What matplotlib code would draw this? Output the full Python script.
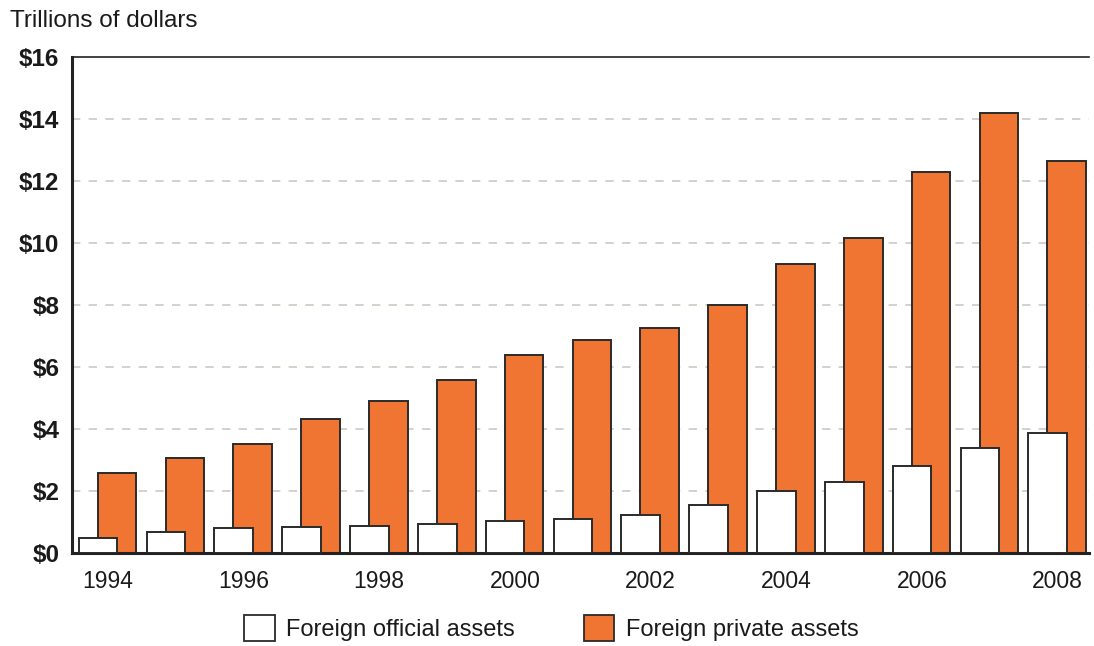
import matplotlib.pyplot as plt
import numpy as np
from matplotlib.patches import Patch

plt.rcParams['font.family'] = ['Liberation Sans', 'DejaVu Sans']

# data (trillions of dollars)
years = list(range(1994, 2009))
official = [0.48, 0.68, 0.81, 0.84, 0.87, 0.94, 1.03, 1.10, 1.23, 1.55, 2.00, 2.29, 2.81, 3.39, 3.87]
private = [2.58, 3.06, 3.50, 4.32, 4.90, 5.58, 6.39, 6.87, 7.26, 8.00, 9.32, 10.16, 12.29, 14.19, 12.65]
y_ticks = [0, 2, 4, 6, 8, 10, 12, 14, 16]

ORANGE = '#f07533'
EDGE = '#2a2a2a'
TEXT = '#1a1a1a'

fig = plt.figure(figsize=(10.94, 6.46), dpi=100)
ax = fig.add_axes([0.0658, 0.144, 0.930, 0.768])

x = np.arange(len(years))
w = 0.57
ax.bar(x - 0.12, private, width=w, align='edge', color=ORANGE,
       edgecolor=EDGE, linewidth=1.4, zorder=2)
ax.bar(x - 0.40, official, width=w, align='edge', color='white',
       edgecolor=EDGE, linewidth=1.4, zorder=3)

ax.set_xlim(-0.5, len(years) - 0.5)
ax.set_ylim(0, 16)

ax.set_yticks(y_ticks)
ax.set_yticklabels([f'${v}' for v in y_ticks], fontsize=17.5, fontweight='bold', color=TEXT)
ax.tick_params(axis='y', length=0, pad=9)
for v in y_ticks[1:-1]:
    ax.axhline(v, color='#cfc8c2', linestyle=(0, (5, 5)), linewidth=1.2, zorder=1)

ax.set_xticks(x[::2] + 0.03)
ax.set_xticklabels([str(y) for y in years[::2]], fontsize=16.5, color=TEXT)
ax.tick_params(axis='x', length=0, pad=12)

ax.spines['right'].set_visible(False)
ax.spines['left'].set_linewidth(2.2)
ax.spines['bottom'].set_linewidth(2.2)
ax.spines['top'].set_linewidth(1.2)
for s in ax.spines.values():
    s.set_color('#222222')

fig.text(0.009, 0.968, 'Trillions of dollars', fontsize=17.5, va='center', ha='left', color=TEXT)

handles = [Patch(facecolor='white', edgecolor=EDGE, linewidth=1.3, label='Foreign official assets'),
           Patch(facecolor=ORANGE, edgecolor=EDGE, linewidth=1.3, label='Foreign private assets')]
fig.legend(handles=handles, loc='center', bbox_to_anchor=(0.504, 0.028), ncol=2,
           frameon=False, fontsize=17, handlelength=1.3, handleheight=1.3,
           columnspacing=2.9, handletextpad=0.5, labelcolor=TEXT)

fig.savefig('out.png', dpi=100)
